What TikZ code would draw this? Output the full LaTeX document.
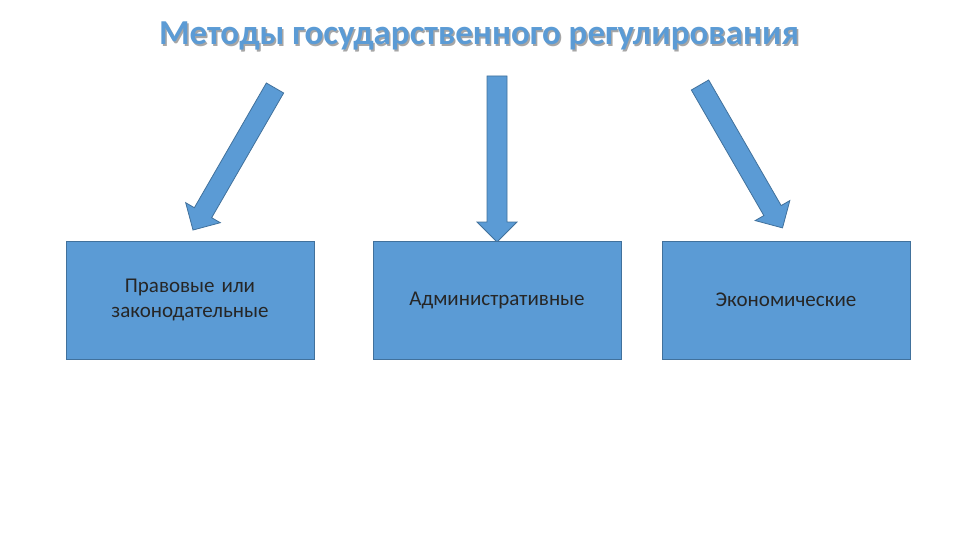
\documentclass[tikz,border=0pt]{standalone}
\usepackage{fontspec}
\setmainfont{Carlito}
\definecolor{fillb}{HTML}{5B9BD5}
\definecolor{edgeb}{HTML}{41719C}
\definecolor{txt}{HTML}{262626}
\begin{document}
\begin{tikzpicture}[x=1pt,y=-1pt,
  box/.style={draw=edgeb,fill=fillb,line width=0.8pt,minimum width=248pt,minimum height=118pt,inner sep=4pt,text=txt,font=\fontsize{21}{25}\selectfont,align=center,text width=230pt},
  barrow/.style={draw=edgeb,fill=fillb,line width=0.8pt,line join=miter},
  ttl/.style={font=\fontsize{35}{40}\selectfont\bfseries}]
\useasboundingbox (0,0) rectangle (960,540);
\node[ttl,text=gray!70] (titleshadow) at (480.5,37.5) {Методы государственного регулирования};
\node[ttl,text=fillb] (title) at (479,36) {Методы государственного регулирования};
\coordinate (s1) at (275,88);
\coordinate (s2) at (497,76);
\coordinate (s3) at (700,85);
\foreach \s/\ang/\L in {s1/240/164, s2/270/166, s3/300/165}{
  \begin{scope}[shift={(\s)},x=1pt,y=1pt,rotate=\ang]
    \draw[barrow] (0,-10) -- (\L-20,-10) -- (\L-20,-20) -- (\L,0) -- (\L-20,20) -- (\L-20,10) -- (0,10) -- cycle;
  \end{scope}
}
\node[box] (b1) at (190,300) {Правовые или\\законодательные};
\node[box] (b2) at (497,300) {Административные};
\node[box] (b3) at (786,300) {Экономические};
\end{tikzpicture}
\end{document}
